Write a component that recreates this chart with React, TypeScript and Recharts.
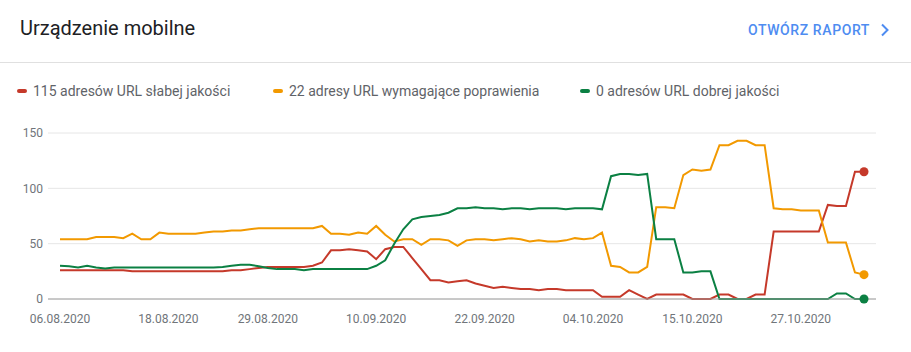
import React from 'react';
import { LineChart, Line, XAxis, YAxis, CartesianGrid } from 'recharts';

const dates = [
  '06.08.2020', '07.08.2020', '08.08.2020', '09.08.2020', '10.08.2020', '11.08.2020', '12.08.2020', '13.08.2020',
  '14.08.2020', '15.08.2020', '16.08.2020', '17.08.2020', '18.08.2020', '19.08.2020', '20.08.2020', '21.08.2020',
  '22.08.2020', '23.08.2020', '24.08.2020', '25.08.2020', '26.08.2020', '27.08.2020', '28.08.2020', '29.08.2020',
  '30.08.2020', '31.08.2020',
  '01.09.2020', '02.09.2020', '03.09.2020', '04.09.2020', '05.09.2020', '06.09.2020', '07.09.2020', '08.09.2020',
  '09.09.2020', '10.09.2020', '11.09.2020', '12.09.2020', '13.09.2020', '14.09.2020', '15.09.2020', '16.09.2020',
  '17.09.2020', '18.09.2020', '19.09.2020', '20.09.2020', '21.09.2020', '22.09.2020', '23.09.2020', '24.09.2020',
  '25.09.2020', '26.09.2020', '27.09.2020', '28.09.2020', '29.09.2020', '30.09.2020',
  '01.10.2020', '02.10.2020', '03.10.2020', '04.10.2020', '05.10.2020', '06.10.2020', '07.10.2020', '08.10.2020',
  '09.10.2020', '10.10.2020', '11.10.2020', '12.10.2020', '13.10.2020', '14.10.2020', '15.10.2020', '16.10.2020',
  '17.10.2020', '18.10.2020', '19.10.2020', '20.10.2020', '21.10.2020', '22.10.2020', '23.10.2020', '24.10.2020',
  '25.10.2020', '26.10.2020', '27.10.2020', '28.10.2020', '29.10.2020', '30.10.2020', '31.10.2020',
  '01.11.2020', '02.11.2020', '03.11.2020',
];

// URL-e słabej jakości (czerwona)
const poor = [
  26, 26, 26, 26, 26, 26, 26, 26, 25, 25,
  25, 25, 25, 25, 25, 25, 25, 25, 25, 26,
  26, 27, 28, 29, 29, 29, 29, 29, 30, 33,
  44, 44, 45, 44, 43, 36, 45, 47, 47, 37,
  27, 17, 17, 15, 16, 17, 14, 12, 10, 11,
  10, 9, 9, 8, 9, 9, 8, 8, 8, 8,
  2, 2, 2, 8, 4, 0, 4, 4, 4, 4,
  0, 0, 0, 4, 4, 0, 0, 4, 4, 61,
  61, 61, 61, 61, 61, 85, 84, 84, 115, 115,
];

// wymagające poprawienia (pomarańczowa)
const needsImprovement = [
  54, 54, 54, 54, 56, 56, 56, 55, 59, 54,
  54, 60, 59, 59, 59, 59, 60, 61, 61, 62,
  62, 63, 64, 64, 64, 64, 64, 64, 64, 66,
  59, 59, 58, 60, 59, 66, 58, 52, 54, 54,
  49, 54, 54, 53, 48, 53, 54, 54, 53, 54,
  55, 54, 52, 53, 52, 52, 53, 55, 54, 55,
  60, 30, 29, 24, 24, 29, 83, 83, 82, 112,
  117, 116, 117, 139, 139, 143, 143, 139, 139, 82,
  81, 81, 80, 80, 80, 51, 51, 51, 24, 22,
];

// dobrej jakości (zielona)
const good = [
  30, 29.5, 28.5, 30, 28.5, 27.5, 28.5, 28.5, 28.5, 28.5,
  28.5, 28.5, 28.5, 28.5, 28.5, 28.5, 28.5, 28.5, 29, 30,
  31, 31, 29.5, 28, 27, 27, 27, 26, 27, 27,
  27, 27, 27, 27, 27, 30, 35, 50, 63, 72,
  74, 75, 76, 78, 82, 82, 83, 82, 82, 81,
  82, 82, 81, 82, 82, 82, 81, 82, 82, 82,
  81, 111, 113, 113, 112, 113, 54, 54, 54, 24,
  24, 25, 25, 0, 0, 0, 0, 0, 0, 0,
  0, 0, 0, 0, 0, 0, 5, 5, 0, 0,
];

const xTicks = ['06.08.2020', '18.08.2020', '29.08.2020', '10.09.2020', '22.09.2020', '04.10.2020', '15.10.2020', '27.10.2020'];
const yTicks = [0, 50, 100, 150];

const series = [
  { key: 'poor', label: '115 adresów URL słabej jakości', color: '#c5392a' },
  { key: 'needsImprovement', label: '22 adresy URL wymagające poprawienia', color: '#f29900' },
  { key: 'good', label: '0 adresów URL dobrej jakości', color: '#0b8043' },
];
const legendLeft = [17, 273, 580];

const chartData = dates.map((date, i) => ({
  date,
  poor: poor[i],
  needsImprovement: needsImprovement[i],
  good: good[i],
}));

const lastIndex = dates.length - 1;

const endDot = (color: string) => (props: any) => {
  if (props.index !== lastIndex) return <g key={`d-${props.index}`} />;
  return <circle key={`d-${props.index}`} cx={props.cx} cy={props.cy} r={4.5} fill={color} stroke="none" />;
};

const font = 'Roboto, "Noto Sans", Arial, sans-serif';

export default function App() {
  return (
    <div style={{ position: 'relative', width: 911, height: 352, background: '#fff', fontFamily: font, overflow: 'hidden' }}>
      <style>{`body{margin:0}`}</style>
      <div style={{ position: 'absolute', left: 20, top: 14, fontSize: 20, color: '#202124', lineHeight: '28px' }}>
        Urządzenie mobilne
      </div>
      <div
        style={{
          position: 'absolute', left: 748, top: 21, fontSize: 14, fontWeight: 500, color: '#4e8cf1',
          letterSpacing: 0.6, lineHeight: '18px', display: 'flex', alignItems: 'center',
        }}
      >
        OTWÓRZ RAPORT
        <svg width="10" height="14" viewBox="0 0 10 14" style={{ marginLeft: 10 }}>
          <path d="M2 1.5 L7.5 7 L2 12.5" fill="none" stroke="#4e8cf1" strokeWidth="2" />
        </svg>
      </div>
      <div style={{ position: 'absolute', left: 0, top: 62, width: 911, height: 1, background: '#e0e0e0' }} />
      {series.map((s, i) => (
        <div
          key={s.key}
          style={{ position: 'absolute', left: legendLeft[i], top: 82, display: 'flex', alignItems: 'center', fontSize: 14, color: '#5f6368', lineHeight: '18px' }}
        >
          <span style={{ display: 'inline-block', width: 10, height: 4, borderRadius: 2, background: s.color, marginRight: 6 }} />
          {s.label}
        </div>
      ))}
      <div style={{ position: 'absolute', left: 0, top: 110 }}>
        <LineChart width={911} height={242} data={chartData} margin={{ top: 23, right: 35, bottom: 23, left: 0 }}>
          <CartesianGrid vertical={false} stroke="#e6e6e6" />
          <XAxis
            dataKey="date"
            ticks={xTicks}
            interval={0}
            padding={{ left: 12, right: 12 }}
            height={30}
            tickLine={false}
            tickSize={0}
            tickMargin={15}
            axisLine={{ stroke: '#9e9e9e' }}
            tick={{ fontSize: 12, fill: '#70757a', fontFamily: font }}
          />
          <YAxis
            domain={[0, 150]}
            ticks={yTicks}
            width={48}
            axisLine={false}
            tickLine={false}
            tickSize={3}
            tickMargin={2}
            tick={{ fontSize: 12, fill: '#70757a', fontFamily: font }}
          />
          {series.map((s) => (
            <Line
              key={s.key}
              type="linear"
              dataKey={s.key}
              stroke={s.color}
              strokeWidth={2}
              dot={endDot(s.color)}
              activeDot={false}
              isAnimationActive={false}
            />
          ))}
        </LineChart>
      </div>
    </div>
  );
}
